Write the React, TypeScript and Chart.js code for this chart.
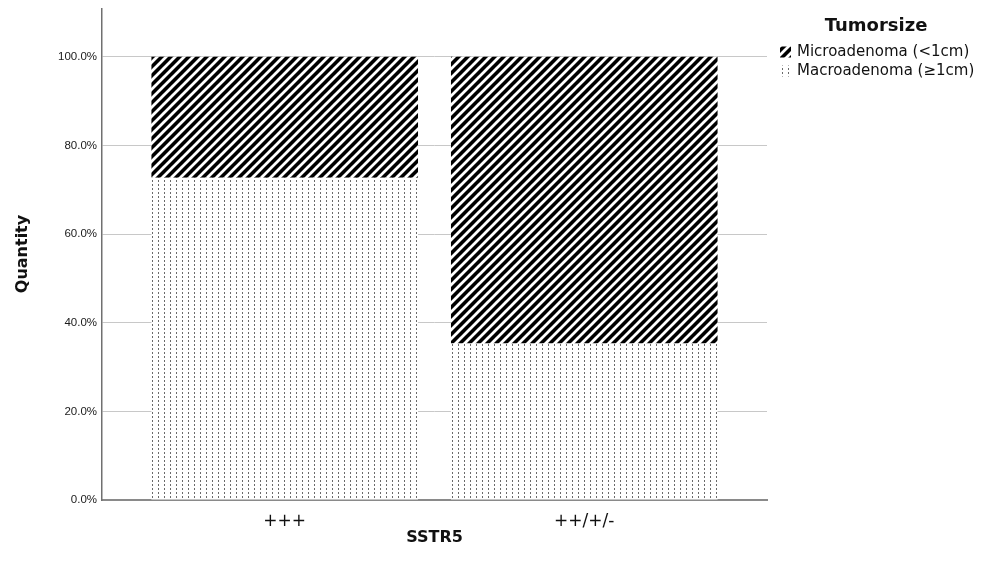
import React, { useEffect, useRef } from 'react';
import { Chart, registerables } from 'chart.js';

Chart.register(...registerables);

const categories = ['+++', '++/+/-'];
const categoryPositions = [1, 2];
const macroValues = [72.7, 35.3];
const microValues = [27.3, 64.7];
const microLabel = 'Microadenoma (<1cm)';
const macroLabel = 'Macroadenoma (≥1cm)';
const yTickValues = [0, 20, 40, 60, 80, 100];
const legendTitle = 'Tumorsize';
const xTitle = 'SSTR5';
const yTitle = 'Quantity';

const FONT = '"DejaVu Sans", sans-serif';

function stripePattern(ctx: CanvasRenderingContext2D) {
  const s = 9;
  const c = document.createElement('canvas');
  c.width = s;
  c.height = s;
  const g = c.getContext('2d')!;
  g.fillStyle = '#000';
  g.fillRect(0, 0, s, s);
  g.strokeStyle = '#fff';
  g.lineWidth = 2.8;
  g.beginPath();
  g.moveTo(-2, s + 2);
  g.lineTo(s + 2, -2);
  g.moveTo(-3, 3);
  g.lineTo(3, -3);
  g.moveTo(s - 3, s + 3);
  g.lineTo(s + 3, s - 3);
  g.stroke();
  return ctx.createPattern(c, 'repeat');
}

function dotPattern(ctx: CanvasRenderingContext2D) {
  const c = document.createElement('canvas');
  c.width = 6;
  c.height = 4;
  const g = c.getContext('2d')!;
  g.fillStyle = '#fff';
  g.fillRect(0, 0, 6, 4);
  g.fillStyle = '#6a6a6a';
  g.fillRect(0, 0, 1, 2);
  return ctx.createPattern(c, 'repeat');
}

const legendPlugin = {
  id: 'customLegend',
  afterDraw(chart: any) {
    const ctx: CanvasRenderingContext2D = chart.ctx;
    const x0 = chart.chartArea.right + 13;
    ctx.save();
    ctx.fillStyle = '#111';
    ctx.font = `bold 18px ${FONT}`;
    ctx.textAlign = 'center';
    ctx.textBaseline = 'middle';
    ctx.fillText(legendTitle, x0 + 96, 18);
    const order = [1, 0];
    ctx.font = `15px ${FONT}`;
    ctx.textAlign = 'left';
    order.forEach((dsIndex, i) => {
      const ds = chart.data.datasets[dsIndex];
      const cy = 44 + i * 19;
      ctx.fillStyle = ds.backgroundColor;
      ctx.fillRect(x0, cy - 5.5, 11, 11);
      ctx.fillStyle = '#111';
      ctx.fillText(ds.label, x0 + 17, cy);
    });
    ctx.restore();
  },
};

export default function App() {
  const ref = useRef<HTMLCanvasElement>(null);
  useEffect(() => {
    const canvas = ref.current!;
    const ctx = canvas.getContext('2d')!;
    const stripes = stripePattern(ctx);
    const dots = dotPattern(ctx);
    const chart = new Chart(canvas, {
      type: 'bar',
      data: {
        datasets: [
          {
            label: macroLabel,
            data: categoryPositions.map((x, i) => ({ x, y: macroValues[i] })),
            backgroundColor: dots as any,
            borderWidth: 0,
            barPercentage: 0.89,
            categoryPercentage: 1,
          },
          {
            label: microLabel,
            data: categoryPositions.map((x, i) => ({ x, y: microValues[i] })),
            backgroundColor: stripes as any,
            borderWidth: 0,
            barPercentage: 0.89,
            categoryPercentage: 1,
          },
        ],
      },
      plugins: [legendPlugin],
      options: {
        animation: false,
        responsive: true,
        maintainAspectRatio: false,
        layout: { padding: { top: 0, right: 212, bottom: 0, left: 0 } },
        plugins: {
          legend: { display: false },
          tooltip: { enabled: false },
        },
        scales: {
          x: {
            type: 'linear',
            stacked: true,
            offset: false,
            min: 0.39,
            max: 2.61,
            grid: { display: false, drawTicks: false, offset: false },
            border: { display: true, color: '#8a8a8a', width: 2 },
            afterBuildTicks: (scale: any) => {
              scale.ticks = categoryPositions.map((v) => ({ value: v }));
            },
            afterFit: (scale: any) => {
              scale.height = 58;
              scale.paddingLeft = 0;
              scale.paddingRight = 0;
            },
            ticks: {
              autoSkip: false,
              maxRotation: 0,
              padding: 11,
              color: '#111',
              font: { family: FONT, size: 17 },
              callback: (v: any) => categories[categoryPositions.indexOf(Number(v))] ?? '',
            },
            title: {
              display: true,
              text: xTitle,
              color: '#111',
              font: { family: FONT, size: 16, weight: 'bold' },
              padding: { top: 0, bottom: 11 },
            },
          },
          y: {
            stacked: true,
            min: 0,
            max: 111,
            afterBuildTicks: (scale: any) => {
              scale.ticks = yTickValues.map((v) => ({ value: v }));
            },
            afterFit: (scale: any) => {
              scale.width = 94;
              scale.paddingTop = 0;
              scale.paddingBottom = 0;
            },
            grid: { color: '#c8c8c8', lineWidth: 1, drawTicks: false },
            border: { display: true, color: '#707070', width: 1.5 },
            ticks: {
              padding: 5,
              color: '#1a1a1a',
              font: { family: '"Liberation Sans", sans-serif', size: 11.5 },
              callback: (v: any) => Number(v).toFixed(1) + '%',
            },
            title: {
              display: true,
              text: yTitle,
              color: '#111',
              font: { family: FONT, size: 16, weight: 'bold' },
              padding: { top: 5, bottom: 0 },
            },
          },
        },
      } as any,
    });
    return () => chart.destroy();
  }, []);
  return (
    <div style={{ width: 971, height: 550, position: 'relative' }}>
      <canvas ref={ref} style={{ display: 'block' }} />
    </div>
  );
}
